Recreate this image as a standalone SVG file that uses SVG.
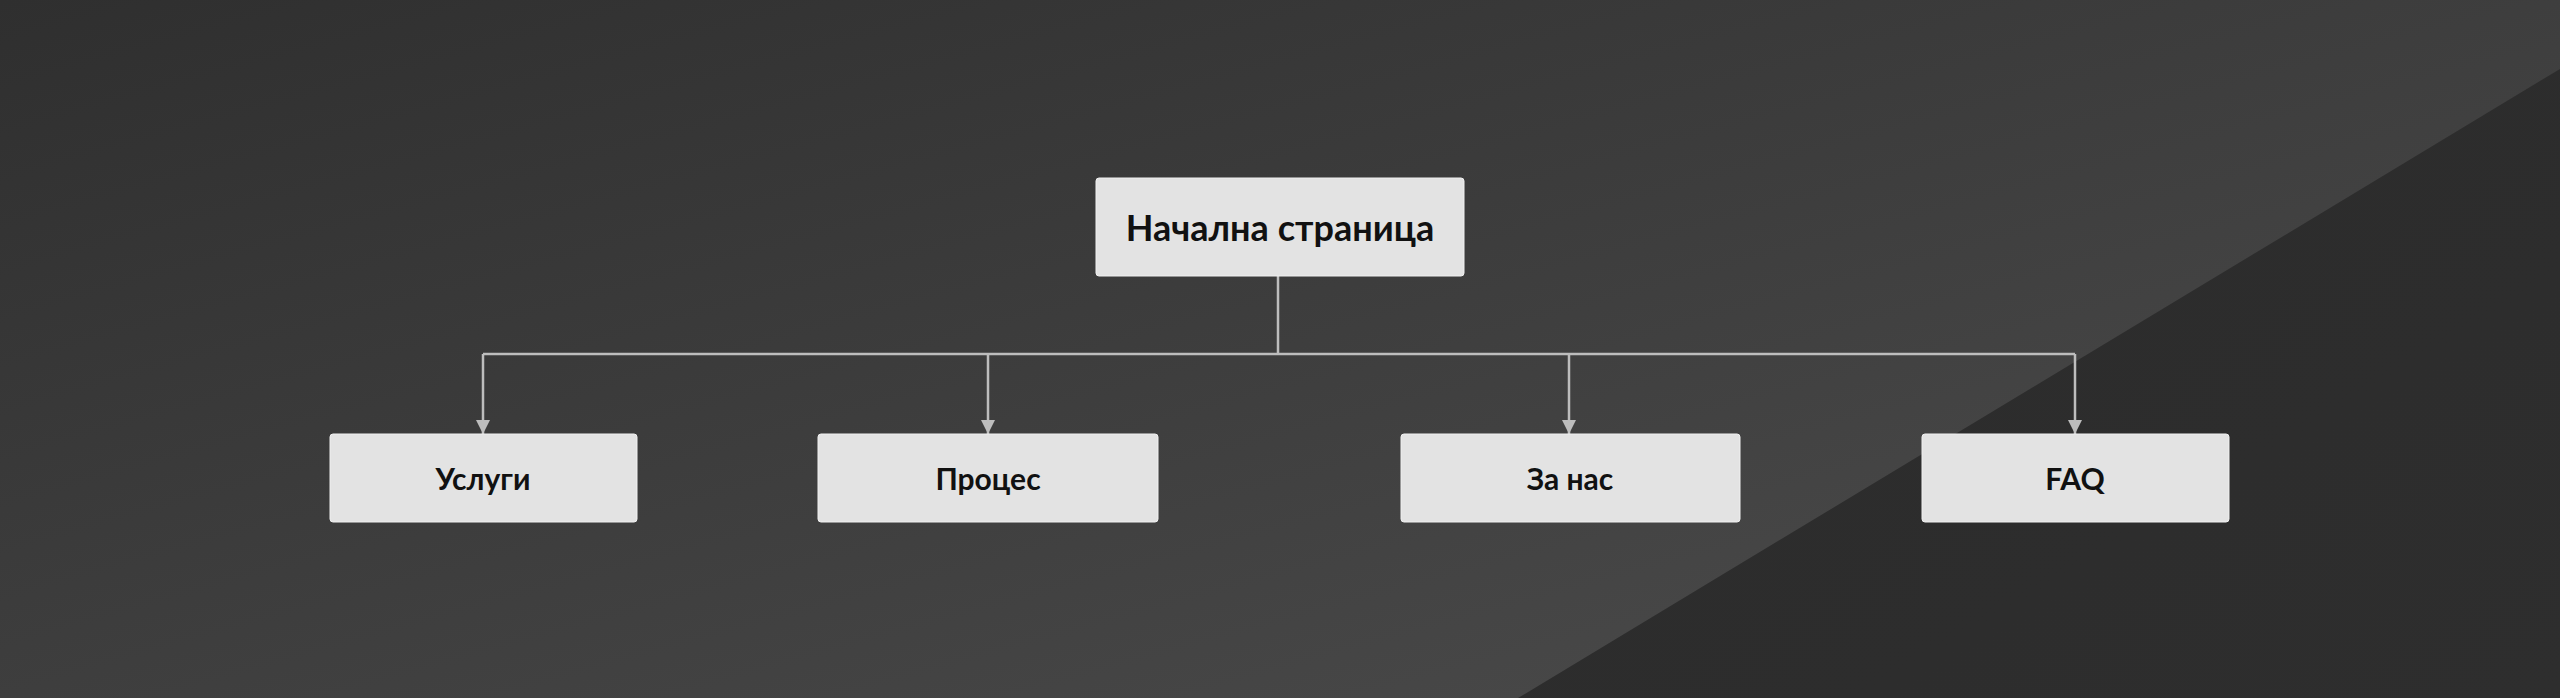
<svg xmlns="http://www.w3.org/2000/svg" width="2560" height="698" viewBox="0 0 2560 698">
<defs>
<linearGradient id="bg" x1="0" y1="0" x2="1" y2="1" gradientUnits="objectBoundingBox">
<stop offset="0" stop-color="#2f2f2f"/>
<stop offset="1" stop-color="#4d4d4d"/>
</linearGradient>
<linearGradient id="tri" x1="0" y1="0" x2="1" y2="1">
<stop offset="0" stop-color="#2b2b2b"/>
<stop offset="1" stop-color="#2e2e2e"/>
</linearGradient>
<marker id="arr" viewBox="0 0 14 14" refX="14" refY="7" markerWidth="14" markerHeight="14" markerUnits="userSpaceOnUse" orient="auto">
<path d="M0,0 L14,7 L0,14 z" fill="#bdbdbd"/>
</marker>
<style>
.node{fill:#e3e3e3;stroke:#f0f0f0;stroke-width:1}
.lbl{font-family:"Lato","Liberation Sans",sans-serif;font-weight:bold;fill:#111;text-anchor:middle;dominant-baseline:central}
.con{stroke:#bdbdbd;stroke-width:2.5;fill:none}
</style>
</defs>
<rect width="2560" height="698" fill="url(#bg)"/>
<polygon points="2560,69 2560,698 1518,698" fill="url(#tri)"/>
<g id="connectors">
<path class="con" d="M1278,276 V354"/>
<path class="con" d="M483,354 H2075"/>
<path class="con" d="M483,354 V434" marker-end="url(#arr)"/>
<path class="con" d="M988,354 V434" marker-end="url(#arr)"/>
<path class="con" d="M1569,354 V434" marker-end="url(#arr)"/>
<path class="con" d="M2075,354 V434" marker-end="url(#arr)"/>
</g>
<g id="home"><rect class="node" x="1096" y="178" width="368" height="98" rx="3"/><text class="lbl" x="1280" y="227" font-size="36">Начална страница</text></g>
<g id="uslugi"><rect class="node" x="330" y="434" width="307" height="88" rx="3"/><text class="lbl" x="483" y="478" font-size="30">Услуги</text></g>
<g id="proces"><rect class="node" x="818" y="434" width="340" height="88" rx="3"/><text class="lbl" x="988" y="478" font-size="30">Процес</text></g>
<g id="zanas"><rect class="node" x="1401" y="434" width="339" height="88" rx="3"/><text class="lbl" x="1570" y="478" font-size="30">За нас</text></g>
<g id="faq"><rect class="node" x="1922" y="434" width="307" height="88" rx="3"/><text class="lbl" x="2075" y="478" font-size="30">FAQ</text></g>
</svg>
